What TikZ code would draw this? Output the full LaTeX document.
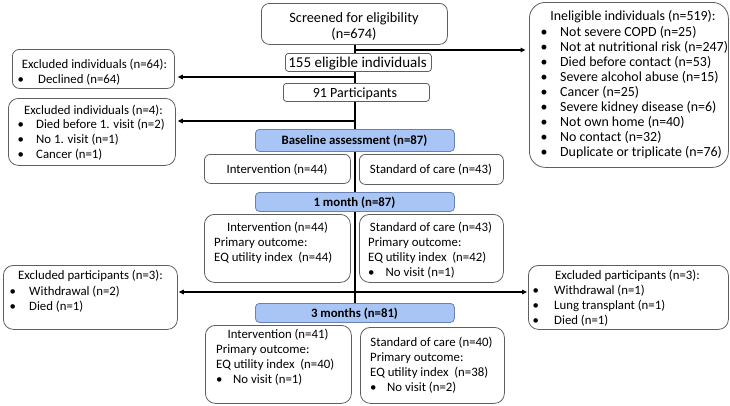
\documentclass[tikz,border=0pt]{standalone}
\usepackage{fontspec}
\setmainfont{Carlito}
\usetikzlibrary{arrows.meta,calc}
\pgfdeclarelayer{bg}
\pgfsetlayers{bg,main}
\definecolor{boxline}{RGB}{95,95,95}
\definecolor{hdrfill}{RGB}{168,197,245}
\definecolor{hdrline}{RGB}{105,130,180}
\newcommand\bx[6][box]{\node[#1,minimum width={(#5-#3)*1bp},minimum height={(#6-#4)*1bp}] (#2) at (#3,#4) {};}
\newcommand\blist[2]{\begin{tabular}[t]{@{}p{#1bp}@{}l@{}}#2\end{tabular}}
\newcommand\plist[1]{\begin{tabular}[t]{@{}l@{}}#1\end{tabular}}
\begin{document}
\begin{tikzpicture}[x=1bp,y=-1bp,
  box/.style={draw=boxline,line width=0.8bp,fill=white,rounded corners=#1,inner sep=0pt,anchor=north west},
  box/.default=8bp,
  hdr/.style={draw=hdrline,line width=0.8bp,fill=hdrfill,rounded corners=4bp,inner sep=0pt,anchor=north west},
  txt/.style={inner sep=0pt,font=\fontsize{12.8bp}{15bp}\selectfont},
  bigtxt/.style={inner sep=0pt,font=\fontsize{13.9bp}{15bp}\selectfont},
  btxt/.style={inner sep=0pt,font=\fontsize{12.8bp}{15bp}\selectfont\bfseries,anchor=base},
  arr/.style={line width=1.1bp,-{Triangle[length=5bp,width=4.5bp]}},
  spine/.style={line width=1.1bp}]
\useasboundingbox (0,0) rectangle (730,405);
% boxes
\bx{scr}{261}{3}{447}{44}
\bx[box=3bp]{el}{285}{53}{431}{71}
\bx[box=3bp]{pt}{283}{83}{429}{101}
\bx[box=16bp]{ine}{529}{2}{728}{167}
\bx[box=7bp]{exa}{12}{49}{174}{88}
\bx[box=10bp]{exb}{8}{98}{175}{165}
\bx[hdr]{base}{255}{129}{454}{151}
\bx[box=6bp]{intb}{204}{154}{350}{183}
\bx[box=6bp]{socb}{359}{154}{503}{184}
\bx[hdr]{mone}{255}{192}{454}{211}
\bx[box=10bp]{inta}{204}{214}{350}{282}
\bx[box=10bp]{soca}{359}{214}{503}{282}
\bx[box=10bp]{exl}{3}{265}{177}{329}
\bx[box=10bp]{exr}{528}{265}{728}{329}
\bx[hdr]{mthree}{255}{303}{454}{322}
\bx[box=10bp]{intc}{205}{325}{351}{403}
\bx[box=10bp]{socc}{360}{327}{504}{403}
% spine and arrows
\coordinate (sx) at (355,0);
\begin{pgfonlayer}{bg}
\fill[white] (0,0) rectangle (730,405);
\draw[spine] (scr.south -| sx) -- (mthree.north -| sx);
\end{pgfonlayer}
\coordinate (j1) at (355,50);
\coordinate (j2) at (355,77);
\coordinate (j3) at (355,121);
\coordinate (j4) at (355,292);
\draw[arr,shorten >=3.5bp] (j1) -- (j1 -| ine.west);
\draw[arr,shorten >=3bp] (j2) -- (j2 -| exa.east);
\draw[arr,shorten >=2bp] (j3) -- (j3 -| exb.east);
\draw[arr,shorten >=1bp] (j4) -- (j4 -| exl.east);
\draw[arr,shorten >=1bp] (j4) -- (j4 -| exr.west);
% texts
\node[txt,font=\fontsize{14.3bp}{16bp}\selectfont,anchor=base] (scr1) at (354,22) {Screened for eligibility};
\node[txt,font=\fontsize{14.3bp}{16bp}\selectfont,anchor=base] (scr2) at (354,38) {(n=674)};
\node[txt,font=\fontsize{15bp}{16bp}\selectfont,anchor=base] (elt) at (357.5,67) {155 eligible individuals};
\node[txt,font=\fontsize{14bp}{16bp}\selectfont,anchor=base] (ptt) at (355,97) {91 Participants};
\node[bigtxt,anchor=base] (ineh) at (633,20.5) {Ineligible individuals (n=519):};
\node[bigtxt,anchor=base west] (inel) at (540.5,36.5) {\blist{19.5}{%
\textbullet & Not severe COPD (n=25)\\
\textbullet & Not at nutritional risk (n=247)\\
\textbullet & Died before contact (n=53)\\
\textbullet & Severe alcohol abuse (n=15)\\
\textbullet & Cancer (n=25)\\
\textbullet & Severe kidney disease (n=6)\\
\textbullet & Not own home (n=40)\\
\textbullet & No contact (n=32)\\
\textbullet & Duplicate or triplicate (n=76)}};
\node[txt,anchor=base] (exah) at (94.5,68) {Excluded individuals (n=64):};
\node[txt,anchor=base west] (exal) at (17.5,83) {\blist{20.5}{\textbullet & Declined (n=64)}};
\node[txt,anchor=base] (exbh) at (93.5,114) {Excluded individuals (n=4):};
\node[txt,anchor=base west] (exbl) at (17.5,128) {\blist{18.5}{%
\textbullet & Died before 1. visit (n=2)\\
\textbullet & No 1. visit (n=1)\\
\textbullet & Cancer (n=1)}};
\node[btxt] (baset) at (354.5,144.5) {Baseline assessment (n=87)};
\node[txt,anchor=base] (intbt) at (277,173) {Intervention (n=44)};
\node[txt,anchor=base] (socbt) at (431,173.5) {Standard of care (n=43)};
\node[btxt] (monet) at (354.5,206.5) {1 month (n=87)};
\node[txt,anchor=base] (intah) at (277.5,231) {Intervention (n=44)};
\node[txt,anchor=base west] (intal) at (214,246) {\plist{Primary outcome:\\EQ utility index\ \ (n=44)}};
\node[txt,anchor=base] (socah) at (431,231) {Standard of care (n=43)};
\node[txt,anchor=base west] (socal) at (368,246) {\blist{17.5}{%
\multicolumn{2}{@{}l@{}}{Primary outcome:}\\
\multicolumn{2}{@{}l@{}}{EQ utility index\ \ (n=42)}\\
\textbullet & No visit (n=1)}};
\node[txt,anchor=base] (exlh) at (90.5,279) {Excluded participants (n=3):};
\node[txt,anchor=base west] (exll) at (9.5,295) {\blist{19.5}{%
\textbullet & Withdrawal (n=2)\\
\textbullet & Died (n=1)}};
\node[txt,anchor=base] (exrh) at (627.5,279) {Excluded participants (n=3):};
\node[txt,anchor=base west] (exrl) at (532.5,294) {\blist{21.5}{%
\textbullet & Withdrawal (n=1)\\
\textbullet & Lung transplant (n=1)\\
\textbullet & Died (n=1)}};
\node[btxt] (mthreet) at (354.5,317.5) {3 months (n=81)};
\node[txt,anchor=base] (intch) at (278,338) {Intervention (n=41)};
\node[txt,anchor=base west] (intcl) at (216,353) {\blist{17}{%
\multicolumn{2}{@{}l@{}}{Primary outcome:}\\
\multicolumn{2}{@{}l@{}}{EQ utility index\ \ (n=40)}\\
\textbullet & No visit (n=1)}};
\node[txt,anchor=base] (socch) at (431.5,346) {Standard of care (n=40)};
\node[txt,anchor=base west] (soccl) at (370,361) {\blist{17}{%
\multicolumn{2}{@{}l@{}}{Primary outcome:}\\
\multicolumn{2}{@{}l@{}}{EQ utility index\ \ (n=38)}\\
\textbullet & No visit (n=2)}};
\end{tikzpicture}
\end{document}
